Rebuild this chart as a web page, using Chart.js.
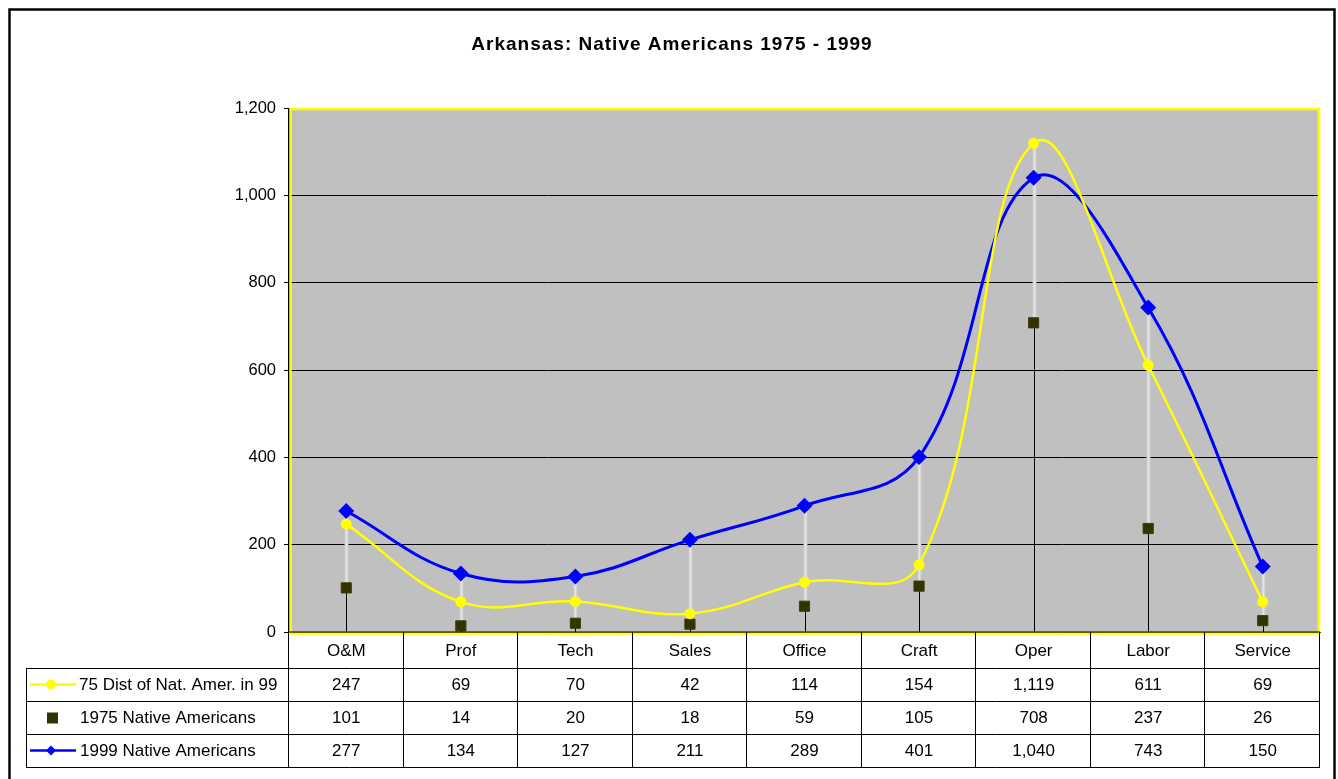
<!DOCTYPE html>
<html>
<head>
<meta charset="utf-8">
<script src="https://cdn.jsdelivr.net/npm/chart.js@4.4.1/dist/chart.umd.min.js"></script>
<style>
  html, body { margin: 0; padding: 0; background: #fff; }
  #wrap { position: relative; width: 1338px; height: 779px; }
</style>
</head>
<body>
<div id="wrap"><canvas id="chart" width="1338" height="779"></canvas></div>
<script>
// data
var categories = ['O&M', 'Prof', 'Tech', 'Sales', 'Office', 'Craft', 'Oper', 'Labor', 'Service'];
var dist75in99 = [247, 69, 70, 42, 114, 154, 1119, 611, 69];
var natAm1975 = [101, 14, 20, 18, 59, 105, 708, 237, 26];
var natAm1999 = [277, 134, 127, 211, 289, 401, 1040, 743, 150];
var seriesNames = ['75 Dist of Nat. Amer. in 99', '1975 Native Americans', '1999 Native Americans'];
var yTicks = [0, 200, 400, 600, 800, 1000, 1200];
var chartTitle = 'Arkansas: Native Americans 1975 - 1999';

var FONT = '"Liberation Sans", Arial, sans-serif';
var YELLOW = '#FFFF00', BLUE = '#0000FF', OLIVE = '#333300';

function fmt(v) { return v.toLocaleString('en-US'); }

// Excel style extras: gray plot area, drop/high-low lines, data table, title, frame
var excelExtras = {
  id: 'excelExtras',
  beforeDraw: function (chart) {
    var ctx = chart.ctx, a = chart.chartArea;
    ctx.save();
    ctx.fillStyle = '#fff';
    ctx.fillRect(0, 0, chart.width, chart.height);
    ctx.fillStyle = '#C0C0C0';
    ctx.fillRect(a.left, a.top, a.right - a.left, a.bottom - a.top);
    ctx.restore();
  },
  beforeDatasetsDraw: function (chart) {
    var ctx = chart.ctx, xs = chart.scales.x, ys = chart.scales.y;
    ctx.save();
    for (var i = 0; i < categories.length; i++) {
      var vals = [dist75in99[i], natAm1975[i], natAm1999[i]];
      var lo = Math.min.apply(null, vals), hi = Math.max.apply(null, vals);
      var x = Math.round(xs.getPixelForValue(i)) + 0.5;
      // drop line
      ctx.strokeStyle = '#000';
      ctx.lineWidth = 1;
      ctx.beginPath();
      ctx.moveTo(x, ys.getPixelForValue(0));
      ctx.lineTo(x, ys.getPixelForValue(lo));
      ctx.stroke();
      // high-low line
      ctx.strokeStyle = '#CFCFCF';
      ctx.lineWidth = 4;
      ctx.beginPath();
      ctx.moveTo(x, ys.getPixelForValue(lo));
      ctx.lineTo(x, ys.getPixelForValue(hi));
      ctx.stroke();
      ctx.strokeStyle = '#E6E6E6';
      ctx.lineWidth = 1.5;
      ctx.stroke();
    }
    ctx.restore();
  },
  afterDraw: function (chart) {
    var ctx = chart.ctx, a = chart.chartArea, xs = chart.scales.x;
    ctx.save();

    // plot area border
    ctx.strokeStyle = YELLOW;
    ctx.lineWidth = 2.5;
    ctx.beginPath();
    ctx.moveTo(a.left + 1.5, a.bottom + 1.5);
    ctx.lineTo(a.left + 1.5, a.top + 1);
    ctx.lineTo(a.right - 1, a.top + 1);
    ctx.lineTo(a.right - 1, a.bottom + 1.5);
    ctx.lineTo(a.left + 1.5, a.bottom + 1.5);
    ctx.stroke();
    ctx.strokeStyle = '#000';
    ctx.lineWidth = 1;
    ctx.beginPath();
    ctx.moveTo(a.left - 0.5, a.top);
    ctx.lineTo(a.left - 0.5, a.bottom);
    ctx.lineTo(a.right, a.bottom);
    ctx.stroke();

    // data table
    var rowTop = [668, 701, 734];
    var rowH = 33;
    var tableLeft = 26;
    var bottom = rowTop[2] + rowH;
    var half = (xs.getPixelForValue(1) - xs.getPixelForValue(0)) / 2;
    ctx.strokeStyle = '#000';
    ctx.lineWidth = 1;
    ctx.beginPath();
    for (var r = 0; r < rowTop.length; r++) {
      ctx.moveTo(tableLeft, rowTop[r] + 0.5);
      ctx.lineTo(a.right, rowTop[r] + 0.5);
    }
    ctx.moveTo(tableLeft, bottom + 0.5);
    ctx.lineTo(a.right, bottom + 0.5);
    ctx.moveTo(tableLeft + 0.5, rowTop[0]);
    ctx.lineTo(tableLeft + 0.5, bottom);
    ctx.moveTo(a.left - 0.5, a.bottom);
    ctx.lineTo(a.left - 0.5, bottom);
    for (var i = 0; i < categories.length; i++) {
      var bx = Math.round(xs.getPixelForValue(i) + half) - 0.5;
      ctx.moveTo(bx, a.bottom);
      ctx.lineTo(bx, bottom);
    }
    ctx.stroke();

    var rows = [dist75in99, natAm1975, natAm1999];
    ctx.fillStyle = '#000';
    ctx.font = '17px ' + FONT;
    ctx.textBaseline = 'middle';
    for (var r = 0; r < rows.length; r++) {
      var cy = rowTop[r] + rowH / 2 + 1;
      ctx.textAlign = 'center';
      for (var i = 0; i < categories.length; i++) {
        ctx.fillText(fmt(rows[r][i]), xs.getPixelForValue(i), cy);
      }
      ctx.textAlign = 'left';
      ctx.fillText(seriesNames[r], r === 0 ? 79 : 80, cy);
    }

    // legend keys
    var ky = rowTop.map(function (t) { return t + rowH / 2; });
    ctx.lineWidth = 2.5;
    ctx.strokeStyle = YELLOW;
    ctx.beginPath(); ctx.moveTo(30, ky[0]); ctx.lineTo(76, ky[0]); ctx.stroke();
    ctx.fillStyle = YELLOW;
    ctx.beginPath(); ctx.arc(51, ky[0], 5, 0, Math.PI * 2); ctx.fill();
    ctx.fillStyle = OLIVE;
    ctx.fillRect(47, ky[1] - 5, 11, 11);
    ctx.strokeStyle = BLUE;
    ctx.beginPath(); ctx.moveTo(30, ky[2]); ctx.lineTo(76, ky[2]); ctx.stroke();
    ctx.fillStyle = BLUE;
    ctx.beginPath();
    ctx.moveTo(51, ky[2] - 5); ctx.lineTo(56, ky[2]); ctx.lineTo(51, ky[2] + 5); ctx.lineTo(46, ky[2]);
    ctx.closePath(); ctx.fill();

    // title
    ctx.fillStyle = '#000';
    ctx.font = 'bold 19px ' + FONT;
    ctx.letterSpacing = '1px';
    ctx.textAlign = 'center';
    ctx.fillText(chartTitle, 672, 45);
    ctx.letterSpacing = '0px';

    // outer frame
    ctx.strokeStyle = '#000';
    ctx.lineWidth = 2.5;
    ctx.beginPath();
    ctx.moveTo(9.5, 790);
    ctx.lineTo(9.5, 9.5);
    ctx.lineTo(1334.5, 9.5);
    ctx.lineTo(1334.5, 790);
    ctx.stroke();
    ctx.restore();
  }
};

new Chart(document.getElementById('chart'), {
  type: 'line',
  data: {
    labels: categories,
    datasets: [
      {
        label: seriesNames[0],
        data: dist75in99,
        borderColor: YELLOW,
        backgroundColor: YELLOW,
        borderWidth: 2.5,
        pointStyle: 'circle',
        pointRadius: 5.5,
        pointBorderWidth: 0,
        tension: 0.4
      },
      {
        label: seriesNames[1],
        data: natAm1975,
        showLine: false,
        borderColor: '#3d3d12',
        backgroundColor: OLIVE,
        pointStyle: 'rect',
        pointRadius: 7.2,
        pointBorderWidth: 1
      },
      {
        label: seriesNames[2],
        data: natAm1999,
        borderColor: BLUE,
        backgroundColor: BLUE,
        borderWidth: 3,
        pointStyle: 'rectRot',
        pointRadius: 8,
        pointBorderWidth: 0,
        tension: 0.4
      }
    ]
  },
  options: {
    responsive: false,
    animation: false,
    devicePixelRatio: 1,
    layout: { padding: { top: 108, left: 0, right: 18, bottom: 112 } },
    plugins: {
      legend: { display: false },
      title: { display: false },
      tooltip: { enabled: false }
    },
    scales: {
      x: {
        type: 'category',
        offset: true,
        grid: { display: false, drawTicks: false },
        border: { display: true, color: '#000', width: 1 },
        ticks: { color: '#000', font: { family: FONT, size: 17 }, padding: 9, maxRotation: 0 },
        afterFit: function (s) { s.height = 35; }
      },
      y: {
        min: 0,
        max: 1200,
        afterBuildTicks: function (s) { s.ticks = yTicks.map(function (v) { return { value: v }; }); },
        ticks: {
          color: '#000',
          font: { family: FONT, size: 16.5 },
          padding: 8,
          callback: function (v) { return fmt(v); }
        },
        grid: { color: '#000', lineWidth: 1, tickLength: 5, drawTicks: true },
        border: { display: true, color: '#000', width: 1 },
        afterFit: function (s) { s.width = 289; }
      }
    }
  },
  plugins: [excelExtras]
});
</script>
</body>
</html>
